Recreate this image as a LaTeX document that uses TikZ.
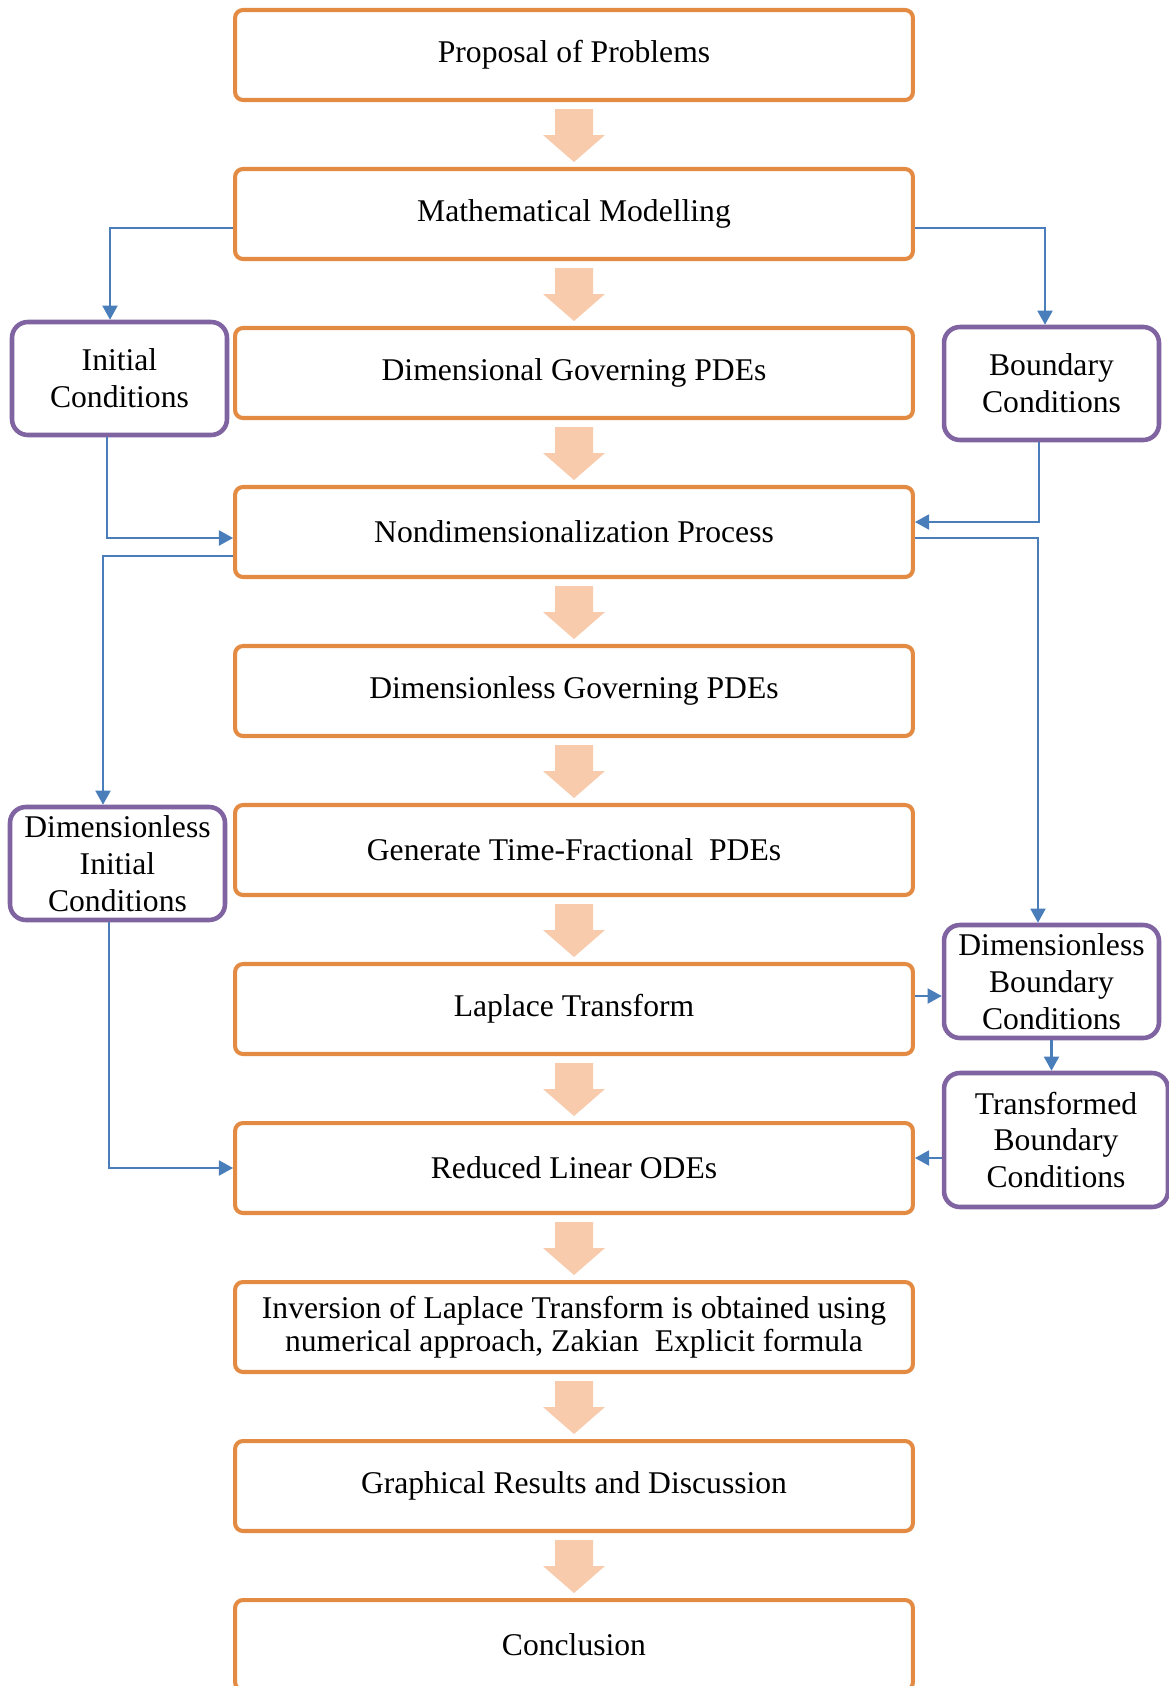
\documentclass[tikz,border=0pt]{standalone}
\usepackage{fontspec}
\setmainfont{Liberation Serif}
\usetikzlibrary{arrows.meta, positioning, calc}
\definecolor{stepOrange}{HTML}{E38B42}
\definecolor{condPurple}{HTML}{8064A2}
\definecolor{linkBlue}{HTML}{4A7EBB}
\definecolor{flowPeach}{HTML}{F8CBAD}

\begin{document}
\begin{tikzpicture}[
    x=0.02cm, y=-0.02cm,
    stepbox/.style={rectangle, rounded corners=4.5pt, draw=stepOrange, line width=2.3pt,
                fill=white, minimum width=13.56cm, minimum height=1.8cm, inner sep=0pt,
                align=center, font=\fontsize{18}{21}\selectfont},
    cond/.style={rectangle, rounded corners=9pt, draw=condPurple, line width=2.6pt,
                fill=white, minimum width=4.3cm, minimum height=2.26cm, inner sep=0pt,
                align=center, font=\fontsize{18}{21}\selectfont},
    link/.style={draw=linkBlue, line width=1.2pt, -{Triangle[width=8.5pt,length=8pt]}},
    fat/.style={fill=flowPeach},
  ]
  \useasboundingbox (0,0) rectangle (1169,1686);

  \node[stepbox] (prob)   at (574,55)   {Proposal of Problems};
  \node[stepbox] (math)   at (574,214)  {Mathematical Modelling};
  \node[stepbox] (dgov)   at (574,373)  {Dimensional Governing PDEs};
  \node[stepbox] (nondim) at (574,532)  {Nondimensionalization Process};
  \node[stepbox] (dless)  at (574,691)  {Dimensionless Governing PDEs};
  \node[stepbox] (frac)   at (574,850)  {Generate Time-Fractional\ \ PDEs};
  \node[stepbox] (lap)    at (574,1009) {Laplace Transform};
  \node[stepbox] (ode)    at (574,1168) {Reduced Linear ODEs};
  \node[stepbox, font=\fontsize{18}{19}\selectfont] (inv) at (574,1327)
    {Inversion of Laplace Transform is obtained using\\numerical approach, Zakian\ \ Explicit formula};
  \node[stepbox] (graph)  at (574,1486) {Graphical Results and Discussion};
  \node[stepbox] (concl)  at (574,1645) {Conclusion};

  \node[cond] (ic)  at (119.5,378.5)  {Initial\\Conditions};
  \node[cond] (bc)  at (1051.5,383.5) {Boundary\\Conditions};
  \node[cond] (dic) at (117.5,863.5)  {Dimensionless\\Initial\\Conditions};
  \node[cond] (dbc) at (1051.5,981.5) {Dimensionless\\Boundary\\Conditions};
  \node[cond, minimum width=4.48cm, minimum height=2.68cm] (tbc) at (1056,1140)
    {Transformed\\Boundary\\Conditions};

  \foreach \a in {prob, math, dgov, nondim, dless, frac, lap, ode, inv, graph}{
    \begin{scope}[shift={(\a.south)}]
      \fill[fat] (-19,7) -- (19,7) -- (19,33) -- (31,33) -- (0,60) -- (-31,33) -- (-19,33) -- cycle;
    \end{scope}
  }

  \draw[link] ([yshift=-0.28cm]math.west) -| ([xshift=-0.19cm]ic.north);
  \draw[link] ([yshift=-0.28cm]math.east) -| ([xshift=-0.13cm]bc.north);
  \draw[link] ([xshift=-0.25cm]ic.south) |- ([yshift=-0.12cm]nondim.west);
  \draw[link] ([xshift=-0.25cm]bc.south) |- ([yshift=0.2cm]nondim.east);
  \draw[link] ([yshift=-0.48cm]nondim.west) -| ([xshift=-0.29cm]dic.north);
  \draw[link] ([yshift=-0.12cm]nondim.east) -| ([xshift=-0.27cm]dbc.north);
  \draw[link] ([xshift=-0.17cm]dic.south) |- (ode.west);
  \path ([yshift=0.26cm]lap.east) coordinate (lapout);
  \draw[link] (lapout) -- (lapout -| dbc.west);
  \draw[link] (dbc.south) -- (dbc.south |- tbc.north);
  \path ([yshift=0.2cm]ode.east) coordinate (odein);
  \draw[link] (tbc.west |- odein) -- (odein);
\end{tikzpicture}
\end{document}
